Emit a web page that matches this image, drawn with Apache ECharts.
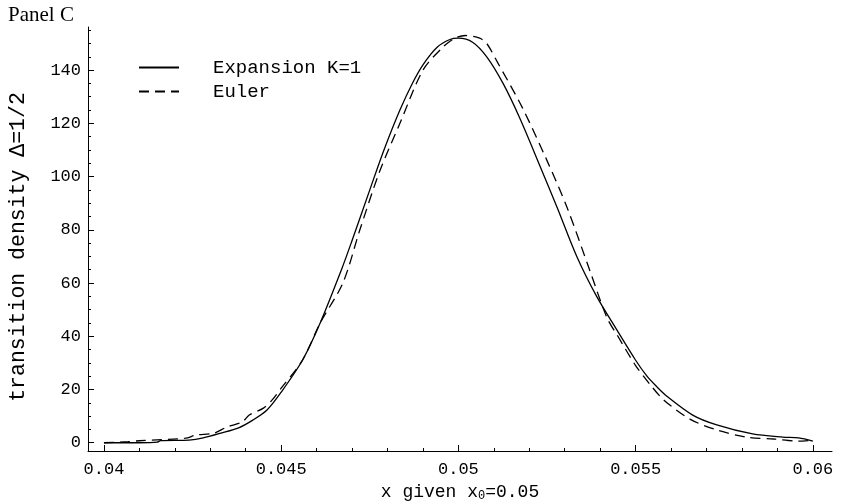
<!DOCTYPE html>
<html>
<head>
<meta charset="utf-8">
<style>
  html, body { margin: 0; padding: 0; background: #fff; }
  #chart { width: 844px; height: 502px; }
</style>
<script src="https://cdn.jsdelivr.net/npm/echarts@6/dist/echarts.min.js"></script>
</head>
<body>
<div id="chart"></div>
<script>
// ---- data ----
const expansionX = [0.0400, 0.0410, 0.0415, 0.0416, 0.0424, 0.0428, 0.0433, 0.0438, 0.0442, 0.0446, 0.0450, 0.0456, 0.0461, 0.0467, 0.0470, 0.0475, 0.0479, 0.04835, 0.0487, 0.0490, 0.0494, 0.04976, 0.0500, 0.0504, 0.0508, 0.05126, 0.05173, 0.0523, 0.05278, 0.05334, 0.0539, 0.05447, 0.0550, 0.05532, 0.0556, 0.05588, 0.05661, 0.05729, 0.0583, 0.05915, 0.0596, 0.0600];
const expansionY = [0, 0, 0.2, 0.8, 1.0, 1.8, 3.6, 5.6, 8.5, 12.3, 19, 31, 45, 65, 76, 95, 110, 125, 135, 142, 148.6, 151.5, 152, 150.5, 145, 135, 122, 104, 88.6, 70, 55, 42.4, 31, 25, 21, 17.5, 10.4, 6.7, 3.3, 2.1, 1.8, 0.6];

const eulerX = [0.0400, 0.04068, 0.0410, 0.0423, 0.0426, 0.0431, 0.04347, 0.0439, 0.0441, 0.0445, 0.04474, 0.0450, 0.0456, 0.0461, 0.04674, 0.04722, 0.04778, 0.04835, 0.0490, 0.04956, 0.0499, 0.0502, 0.0506, 0.0508, 0.0511, 0.0518, 0.0525, 0.05306, 0.0537, 0.05419, 0.0545, 0.0550, 0.0554, 0.0558, 0.05653, 0.05729, 0.05814, 0.0589, 0.0596, 0.0600];
const eulerY = [0, 0.4, 0.75, 1.7, 2.9, 3.6, 5.9, 7.8, 10.4, 13, 16, 20.5, 31, 45, 60, 80, 102, 120, 140, 148.6, 152, 153, 152, 150, 143, 126, 106, 88.6, 65, 47, 40, 29, 22, 16, 8.9, 4.8, 2.1, 1.4, 0.6, 1.0];

const xTickLabels = [0.04, 0.045, 0.05, 0.055, 0.06];
const xMinorTicks = [0.041, 0.042, 0.043, 0.044, 0.046, 0.047, 0.048, 0.049, 0.051, 0.052, 0.053, 0.054, 0.056, 0.057, 0.058, 0.059];
const yTickLabels = [0, 20, 40, 60, 80, 100, 120, 140];
const yMinorTicks = [5, 10, 15, 25, 30, 35, 45, 50, 55, 65, 70, 75, 85, 90, 95, 105, 110, 115, 125, 130, 135, 145, 150, 155];

const seriesNames = ['Expansion K=1', 'Euler'];

// ---- chart ----
const mono = 'Liberation Mono';
const chart = echarts.init(document.getElementById('chart'));
const xRange = { min: 0.03955, max: 0.06054 };
const yRange = { min: -3.1, max: 156.2 };

const fmtX = v => String(Math.round(v * 1000) / 1000);

chart.setOption({
  animation: false,
  backgroundColor: '#fff',
  title: {
    text: 'Panel C',
    left: 3, top: 0,
    textStyle: { fontFamily: 'Liberation Serif', fontSize: 21, fontWeight: 'normal', color: '#000' }
  },
  legend: {
    orient: 'vertical',
    left: 133, top: 53,
    itemWidth: 40, itemHeight: 14, itemGap: 5,
    data: seriesNames,
    itemStyle: { opacity: 0 },
    textStyle: { fontFamily: mono, fontSize: 19, color: '#000', padding: [0, 0, 0, 29] }
  },
  grid: { left: 88, right: 12, top: 27, bottom: 51, containLabel: false, outerBoundsMode: 'none' },
  xAxis: [
    {
      type: 'value', ...xRange,
      axisLine: { show: true, onZero: false, lineStyle: { color: '#000', width: 1 } },
      axisTick: { show: true, inside: true, length: 6, customValues: xTickLabels, lineStyle: { color: '#000' } },
      axisLabel: { customValues: xTickLabels, formatter: fmtX, fontFamily: mono, fontSize: 17, color: '#000', margin: 10 },
      splitLine: { show: false },
      name: 'x given x{sub|0}=0.05',
      nameLocation: 'middle',
      nameGap: 31,
      nameTextStyle: {
        fontFamily: mono, fontSize: 18, color: '#000',
        rich: { sub: { fontFamily: mono, fontSize: 12, color: '#000', padding: [8, 0, 0, 0] } }
      }
    },
    {
      type: 'value', ...xRange, gridIndex: 0, position: 'bottom',
      axisLine: { show: false, onZero: false },
      axisTick: { show: true, inside: true, length: 3, customValues: xMinorTicks, lineStyle: { color: '#000' } },
      axisLabel: { show: false },
      splitLine: { show: false }
    }
  ],
  yAxis: [
    {
      type: 'value', ...yRange,
      axisLine: { show: true, onZero: false, lineStyle: { color: '#000', width: 1 } },
      axisTick: { show: true, inside: true, length: 6, customValues: yTickLabels, lineStyle: { color: '#000' } },
      axisLabel: { customValues: yTickLabels, fontFamily: mono, fontSize: 17, color: '#000', margin: 7 },
      splitLine: { show: false },
      name: 'transition density Δ=1/2',
      nameLocation: 'middle',
      nameGap: 59,
      nameRotate: 90,
      nameTextStyle: { fontFamily: mono, fontSize: 21.5, color: '#000', padding: [0, 16, 0, 0] }
    },
    {
      type: 'value', ...yRange, position: 'left',
      axisLine: { show: false, onZero: false },
      axisTick: { show: true, inside: true, length: 3, customValues: yMinorTicks, lineStyle: { color: '#000' } },
      axisLabel: { show: false },
      splitLine: { show: false }
    }
  ],
  series: [
    {
      name: seriesNames[0], type: 'line', symbol: 'none', showSymbol: false, smooth: 0.3,
      xAxisIndex: 0, yAxisIndex: 0,
      lineStyle: { color: '#000', width: 1.3, type: 'solid' },
      itemStyle: { color: '#000' },
      data: expansionX.map((x, i) => [x, expansionY[i]])
    },
    {
      name: seriesNames[1], type: 'line', symbol: 'none', showSymbol: false, smooth: 0.3,
      xAxisIndex: 0, yAxisIndex: 0,
      lineStyle: { color: '#000', width: 1.3, type: [10, 6] },
      itemStyle: { color: '#000' },
      data: eulerX.map((x, i) => [x, eulerY[i]])
    }
  ]
});
</script>
</body>
</html>
